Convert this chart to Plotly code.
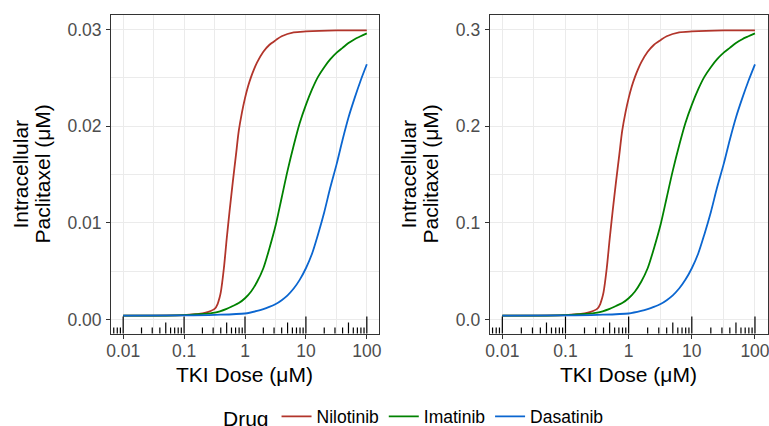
import plotly.graph_objects as go

# ---------------- data ----------------
drugs = ["Nilotinib", "Imatinib", "Dasatinib"]
colors = ["#B2352B", "#008200", "#0B66D0"]

# TKI dose (uM) and intracellular paclitaxel (uM) -- low paclitaxel panel
nil_dose = [0.01, 0.1, 0.16, 0.2, 0.25, 0.32, 0.355, 0.38, 0.4, 0.45, 0.5, 0.56, 0.63, 0.71,
            0.79, 0.89, 1.0, 1.12, 1.26, 1.41, 1.58, 2.0, 2.5, 3.2, 4.0, 6.3, 10, 32, 100]
nil_low = [0.00040, 0.00045, 0.00055, 0.00062, 0.00078, 0.00112, 0.00160, 0.00220, 0.00280,
           0.00530, 0.00830, 0.01130, 0.01420, 0.01700, 0.01950, 0.02140, 0.02290, 0.02410,
           0.02510, 0.02590, 0.02660, 0.02770, 0.02840, 0.02890, 0.02930, 0.02970, 0.02980,
           0.02990, 0.02990]

ima_dose = [0.01, 0.1, 0.32, 0.5, 0.63, 0.79, 1.0, 1.26, 1.58, 2.0, 2.5, 3.2, 4.0, 5.0, 6.3,
            7.9, 10, 12.6, 15.8, 20, 25, 32, 40, 50, 63, 79, 100]
ima_low = [0.00040, 0.00045, 0.00070, 0.00110, 0.00140, 0.00170, 0.00220, 0.00290, 0.00390,
           0.00530, 0.00730, 0.00980, 0.01260, 0.01540, 0.01800, 0.02030, 0.02220, 0.02380,
           0.02510, 0.02610, 0.02690, 0.02760, 0.02810, 0.02860, 0.02900, 0.02930, 0.02960]

das_dose = [0.01, 0.1, 0.32, 1.0, 1.58, 2.0, 2.5, 3.2, 4.0, 5.0, 6.3, 7.9, 10, 12.6, 15.8,
            20, 25, 32, 40, 50, 63, 79, 100]
das_low = [0.00040, 0.00042, 0.00048, 0.00062, 0.00088, 0.00107, 0.00130, 0.00160, 0.00200,
           0.00250, 0.00320, 0.00410, 0.00530, 0.00680, 0.00880, 0.01110, 0.01360, 0.01610,
           0.01860, 0.02090, 0.02290, 0.02470, 0.02640]

# high paclitaxel panel
nil_high = [0.0040, 0.0045, 0.0055, 0.0062, 0.0078, 0.0112, 0.0160, 0.0220, 0.0280,
            0.0530, 0.0830, 0.1130, 0.1420, 0.1700, 0.1950, 0.2140, 0.2290, 0.2410,
            0.2510, 0.2590, 0.2660, 0.2770, 0.2840, 0.2890, 0.2930, 0.2970, 0.2980,
            0.2990, 0.2990]
ima_high = [0.0040, 0.0045, 0.0070, 0.0110, 0.0140, 0.0170, 0.0220, 0.0290, 0.0390,
            0.0530, 0.0730, 0.0980, 0.1260, 0.1540, 0.1800, 0.2030, 0.2220, 0.2380,
            0.2510, 0.2610, 0.2690, 0.2760, 0.2810, 0.2860, 0.2900, 0.2930, 0.2960]
das_high = [0.0040, 0.0042, 0.0048, 0.0062, 0.0088, 0.0107, 0.0130, 0.0160, 0.0200,
            0.0250, 0.0320, 0.0410, 0.0530, 0.0680, 0.0880, 0.1110, 0.1360, 0.1610,
            0.1860, 0.2090, 0.2290, 0.2470, 0.2640]

x_ticks = [0.01, 0.1, 1, 10, 100]
x_ticktext = ["0.01", "0.1", "1", "10", "100"]
x_minor = [10 ** -1.5, 10 ** -0.5, 10 ** 0.5, 10 ** 1.5]
y_ticks_low = [0.00, 0.01, 0.02, 0.03]
y_minor_low = [0.005, 0.015, 0.025]
y_ticks_high = [0.0, 0.1, 0.2, 0.3]
y_minor_high = [0.05, 0.15, 0.25]

# annotation_logticks style marks
log_decades = [-3, -2, -1, 0, 1, 2]
log_mults = [1, 2, 3, 4, 5, 6, 7, 8, 9]

# ---------------- figure ----------------
W, H = 769, 426
FONT = "Liberation Sans, Arial, sans-serif"
TICKCOL = "#4D4D4D"
BORDER = "#333333"
GRID = "#EBEBEB"

fig = go.Figure()

panels = [
    ("x", "y", [nil_low, ima_low, das_low], True),
    ("x2", "y2", [nil_high, ima_high, das_high], False),
]
doses = [nil_dose, ima_dose, das_dose]

for xa, ya, series, show in panels:
    for name, col, xd, yd in zip(drugs, colors, doses, series):
        fig.add_trace(go.Scatter(
            x=xd, y=yd, mode="lines", name=name, legendgroup=name,
            showlegend=show, xaxis=xa, yaxis=ya,
            line=dict(color=col, width=1.8, shape="spline", smoothing=0.8),
        ))

ytop, ybot = 15, 333.5
ydom = [1 - ybot / H, 1 - ytop / H]
xdom1 = [111 / W, 379 / W]
xdom2 = [489.7 / W, 767.6 / W]

def xaxis_cfg(dom, anchor):
    return dict(
        type="log", domain=dom, anchor=anchor, range=[-2.2, 2.2],
        tickmode="array", tickvals=x_ticks, ticktext=x_ticktext,
        ticks="outside", ticklen=4, tickwidth=1, tickcolor=BORDER,
        ticklabelstandoff=-3, ticklabeloverflow="allow",
        tickfont=dict(family=FONT, size=17.5, color=TICKCOL),
        showgrid=True, gridcolor=GRID, gridwidth=1.1,
        minor=dict(tickmode="array", tickvals=x_minor, showgrid=True,
                   gridcolor=GRID, gridwidth=0.55, ticks=""),
        showline=True, linecolor=BORDER, linewidth=1, mirror=True,
        zeroline=False,
    )

def yaxis_cfg(dom, anchor, rng, tv, mv, fmt):
    return dict(
        domain=dom, anchor=anchor, range=rng,
        tickmode="array", tickvals=tv, tickformat=fmt,
        ticks="outside", ticklen=4, tickwidth=1, tickcolor=BORDER,
        ticklabelstandoff=1, ticklabeloverflow="allow",
        tickfont=dict(family=FONT, size=17.5, color=TICKCOL),
        showgrid=True, gridcolor=GRID, gridwidth=1.1,
        minor=dict(tickmode="array", tickvals=mv, showgrid=True,
                   gridcolor=GRID, gridwidth=0.55, ticks=""),
        showline=True, linecolor=BORDER, linewidth=1, mirror=True,
        zeroline=False,
    )

fig.update_layout(
    width=W, height=H,
    margin=dict(l=0, r=0, t=0, b=0, autoexpand=False),
    paper_bgcolor="white", plot_bgcolor="white",
    font=dict(family=FONT, color="black"),
    xaxis=xaxis_cfg(xdom1, "y"),
    xaxis2=xaxis_cfg(xdom2, "y2"),
    yaxis=yaxis_cfg(ydom, "x", [-0.00145, 0.0315], y_ticks_low, y_minor_low, ".2f"),
    yaxis2=yaxis_cfg(ydom, "x2", [-0.0145, 0.315], y_ticks_high, y_minor_high, ".1f"),
    showlegend=True,
    legend=dict(
        orientation="h", x=415 / W, xanchor="center", y=1 - 417.5 / H, yanchor="middle",
        title=dict(text="Drug", side="left", font=dict(family=FONT, size=21, color="black")),
        font=dict(family=FONT, size=17.5, color="black"),
        bgcolor="rgba(0,0,0,0)", itemwidth=30, traceorder="normal",
    ),
)

# log tick marks along the bottom of each panel
panel_h = ybot - ytop
shapes = []
for xr, yr in [("x", "y domain"), ("x2", "y2 domain")]:
    for d in log_decades:
        for m in log_mults:
            v = m * 10 ** d
            if v < 10 ** -2.2 or v > 10 ** 2.2:
                continue
            ln = 17 if m == 1 else (11 if m == 5 else 6)
            shapes.append(dict(type="line", xref=xr, yref=yr, x0=v, x1=v,
                               y0=0, y1=ln / panel_h,
                               line=dict(color="black", width=1.2)))
fig.update_layout(shapes=shapes)

# axis titles
title_font = dict(family=FONT, size=21, color="black")
ymid = 1 - 174 / H
annots = []
for cx in [(111 + 379) / 2, (489.7 + 767.6) / 2]:
    annots.append(dict(text="TKI Dose (μM)", xref="paper", yref="paper",
                       x=cx / W, y=1 - 374.75 / H, xanchor="center", yanchor="middle",
                       showarrow=False, font=title_font))
for off in [0, 388]:
    annots.append(dict(text="Intracellular", xref="paper", yref="paper",
                       x=(19.5 + off) / W, y=ymid, xanchor="center", yanchor="middle",
                       textangle=-90, showarrow=False, font=title_font))
    annots.append(dict(text="Paclitaxel (μM)", xref="paper", yref="paper",
                       x=(41.5 + off) / W, y=ymid, xanchor="center", yanchor="middle",
                       textangle=-90, showarrow=False, font=title_font))
fig.update_layout(annotations=annots)

fig.write_html(
    "out.html",
    config={"displayModeBar": False},
    post_script="document.body.style.margin='0px'; document.body.style.overflow='hidden';",
)
